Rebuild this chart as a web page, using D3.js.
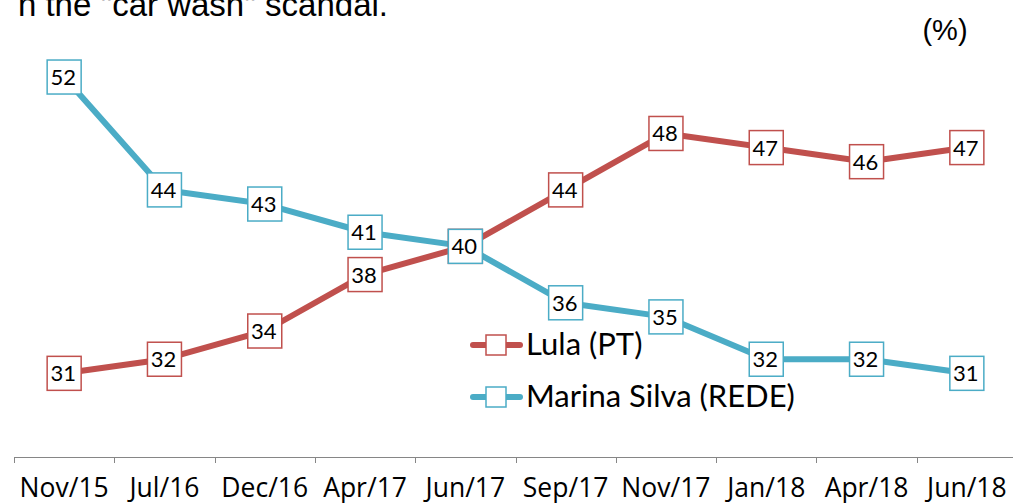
<!DOCTYPE html>
<html>
<head>
<meta charset="utf-8">
<script src="https://cdn.jsdelivr.net/npm/d3@7"></script>
<style>
  body { margin: 0; background: #fff; }
  svg { display: block; }
</style>
</head>
<body>
<script>
const categories = ["Nov/15", "Jul/16", "Dec/16", "Apr/17", "Jun/17", "Sep/17", "Nov/17", "Jan/18", "Apr/18", "Jun/18"];
const lula = [31, 32, 34, 38, 40, 44, 48, 47, 46, 47];
const marina = [52, 44, 43, 41, 40, 36, 35, 32, 32, 31];
const seriesNames = ["Lula (PT)", "Marina Silva (REDE)"];

const W = 1013, H = 503;
const red = "#c0504d", blue = "#4bacc6";

const svg = d3.select("body").append("svg")
    .attr("width", W)
    .attr("height", H);

let x = d3.scaleBand()
    .domain(categories)
    .range([14, 1017]);

let y = d3.scaleLinear()
    .domain([25, 55])
    .range([458, 34.7]);

// title remnant and unit
svg.append("text")
    .attr("x", 388).attr("y", 16)
    .attr("text-anchor", "end")
    .style("font-family", "Liberation Sans, Arial, sans-serif")
    .style("font-size", "33px")
    .text("n the \"car wash\" scandal.");

svg.append("text")
    .attr("x", 945).attr("y", 40)
    .attr("text-anchor", "middle")
    .style("font-family", "Liberation Sans, Arial, sans-serif")
    .style("font-size", "29px")
    .text("(%)");

// x axis, ticks between categories
let gAxis = svg.append("g");
gAxis.append("line")
    .attr("x1", 14).attr("x2", W)
    .attr("y1", 457.5).attr("y2", 457.5)
    .attr("stroke", "#868686");
gAxis.selectAll("line.tick")
    .data(categories)
    .enter()
    .append("line")
    .attr("class", "tick")
    .attr("x1", d => Math.round(x(d)) + 0.5)
    .attr("x2", d => Math.round(x(d)) + 0.5)
    .attr("y1", 457).attr("y2", 463)
    .attr("stroke", "#868686");
gAxis.selectAll("text")
    .data(categories)
    .enter()
    .append("text")
    .attr("x", d => x(d) + x.bandwidth() / 2)
    .attr("y", 497)
    .attr("text-anchor", "middle")
    .style("font-family", "Open Sans, sans-serif")
    .style("font-size", "26.5px")
    .text(d => d);

const cx = (d, i) => x(categories[i]) + x.bandwidth() / 2;

let line = d3.line()
    .x(cx)
    .y(d => y(d));

const series = [
    { name: seriesNames[0], values: lula, color: red },
    { name: seriesNames[1], values: marina, color: blue }
];

for (let s of series) {
    svg.append("path")
        .attr("d", line(s.values))
        .attr("fill", "none")
        .attr("stroke", s.color)
        .attr("stroke-width", 6)
        .attr("stroke-linejoin", "round");
}

// data labels in boxes
for (let s of series) {
    let g = svg.append("g");
    let lab = g.selectAll("g")
        .data(s.values)
        .enter()
        .append("g")
        .attr("transform", (d, i) => `translate(${cx(d, i)}, ${y(d)})`);
    lab.append("rect")
        .attr("x", -17).attr("y", -17)
        .attr("width", 34).attr("height", 34)
        .attr("fill", "white")
        .attr("stroke", s.color)
        .attr("stroke-width", 1.5);
    lab.append("text")
        .attr("x", -1).attr("y", 8)
        .attr("text-anchor", "middle")
        .style("font-family", "Lato, sans-serif")
        .style("font-size", "22px")
        .text(d => d);
}

// legend
let legend = svg.append("g");
series.forEach((s, i) => {
    let ly = 345 + i * 52;
    legend.append("line")
        .attr("x1", 473).attr("x2", 520)
        .attr("y1", ly).attr("y2", ly)
        .attr("stroke", s.color)
        .attr("stroke-width", 6)
        .attr("stroke-linecap", "round");
    legend.append("rect")
        .attr("x", 486).attr("y", ly - 10)
        .attr("width", 20).attr("height", 20)
        .attr("fill", "white")
        .attr("stroke", s.color)
        .attr("stroke-width", 1.5);
    legend.append("text")
        .attr("x", 526).attr("y", ly + 10)
        .style("font-family", "Lato, sans-serif")
        .style("font-size", "31px")
        .text(s.name);
});
</script>
</body>
</html>
